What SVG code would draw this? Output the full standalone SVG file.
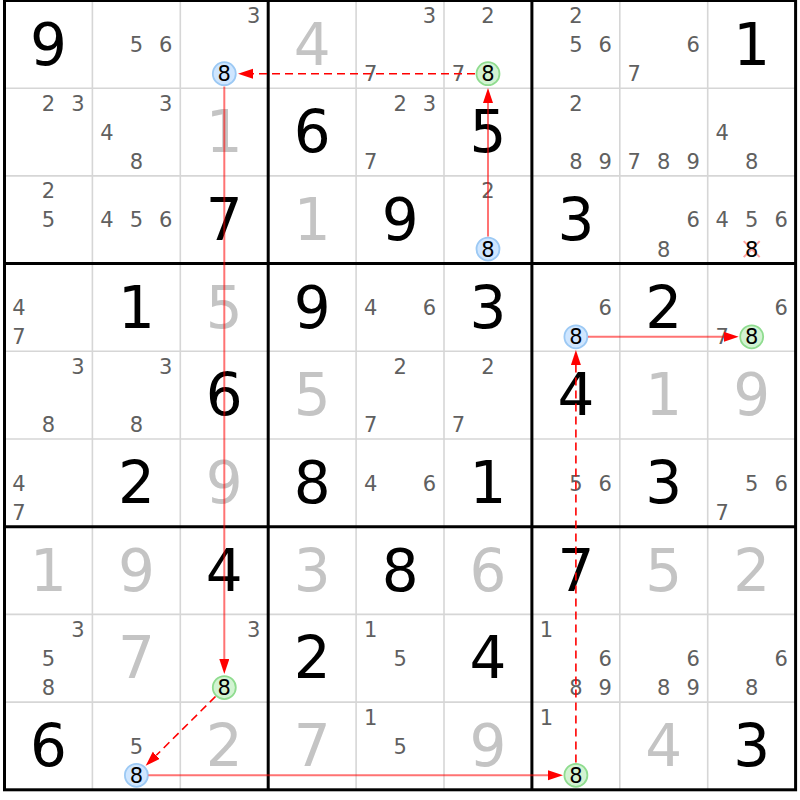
<svg xmlns="http://www.w3.org/2000/svg" width="800" height="800" viewBox="0 0 800 800">
<style>
text{font-family:"DejaVu Sans","Verdana",sans-serif;text-anchor:middle}
.c{font-size:21px;fill:#606060}
.g{font-size:58px;fill:#000}
.s{font-size:58px;fill:#c4c4c4}
.ck{font-size:21px;fill:#000}
.hb{fill:#cfe6ff;stroke:#9cc9f4;stroke-width:1.8}
.hg{fill:#d2f3d2;stroke:#8fdc8f;stroke-width:1.8}
.thin{stroke:#d6d6d6;stroke-width:1.6}
.thick{stroke:#000;stroke-width:3;fill:none}
.x{stroke:#ff8a8a;stroke-width:2;stroke-opacity:0.8}
.solid{stroke:#ff0000;stroke-opacity:0.55;stroke-width:2;fill:none}
.dash{stroke:#ff0000;stroke-width:1.6;stroke-dasharray:8 5;fill:none}
</style>
<defs>
<marker id="ah" markerUnits="userSpaceOnUse" markerWidth="16" markerHeight="11" refX="0" refY="5" orient="auto">
<path d="M0,0 L15,5 L0,10 Z" fill="#ff0000"/>
</marker>
</defs>
<rect x="0" y="0" width="800" height="800" fill="#fff"/>
<g id="grid">
<path class="thin" d="M92.4,0.5V789.8M180.3,0.5V789.8M356.1,0.5V789.8M444,0.5V789.8M619.8,0.5V789.8M707.7,0.5V789.8M4.5,88.2H795.6M4.5,175.9H795.6M4.5,351.3H795.6M4.5,439H795.6M4.5,614.4H795.6M4.5,702.1H795.6"/>
<path class="thick" d="M268.2,0.5V789.8M531.9,0.5V789.8M4.5,263.6H795.6M4.5,526.7H795.6"/>
<rect class="thick" x="4.5" y="0.5" width="791.1" height="789.3"/>
</g>
<g id="cells">
<g id="r1c1" transform="translate(4.5,0.5)"><text class="g" x="44" y="64">9</text></g>
<g id="r1c2" transform="translate(92.4,0.5)"><text class="c" x="44" y="51.6">5</text><text class="c" x="73.4" y="51.6">6</text></g>
<g id="r1c3" transform="translate(180.3,0.5)"><text class="c" x="73.4" y="22.6">3</text><circle class="hb" cx="44" cy="73.2" r="11.5"/><text class="ck" x="44" y="80.8">8</text></g>
<g id="r1c4" transform="translate(268.2,0.5)"><text class="s" x="44" y="64">4</text></g>
<g id="r1c5" transform="translate(356.1,0.5)"><text class="c" x="73.4" y="22.6">3</text><text class="c" x="14.5" y="80.8">7</text></g>
<g id="r1c6" transform="translate(444,0.5)"><text class="c" x="44" y="22.6">2</text><text class="c" x="14.5" y="80.8">7</text><circle class="hg" cx="44" cy="73.2" r="11.5"/><text class="ck" x="44" y="80.8">8</text></g>
<g id="r1c7" transform="translate(531.9,0.5)"><text class="c" x="44" y="22.6">2</text><text class="c" x="44" y="51.6">5</text><text class="c" x="73.4" y="51.6">6</text></g>
<g id="r1c8" transform="translate(619.8,0.5)"><text class="c" x="73.4" y="51.6">6</text><text class="c" x="14.5" y="80.8">7</text></g>
<g id="r1c9" transform="translate(707.7,0.5)"><text class="g" x="44" y="64">1</text></g>

<g id="r2c1" transform="translate(4.5,88.2)"><text class="c" x="44" y="22.6">2</text><text class="c" x="73.4" y="22.6">3</text></g>
<g id="r2c2" transform="translate(92.4,88.2)"><text class="c" x="73.4" y="22.6">3</text><text class="c" x="14.5" y="51.6">4</text><text class="c" x="44" y="80.8">8</text></g>
<g id="r2c3" transform="translate(180.3,88.2)"><text class="s" x="44" y="64">1</text></g>
<g id="r2c4" transform="translate(268.2,88.2)"><text class="g" x="44" y="64">6</text></g>
<g id="r2c5" transform="translate(356.1,88.2)"><text class="c" x="44" y="22.6">2</text><text class="c" x="73.4" y="22.6">3</text><text class="c" x="14.5" y="80.8">7</text></g>
<g id="r2c6" transform="translate(444,88.2)"><text class="g" x="44" y="64">5</text></g>
<g id="r2c7" transform="translate(531.9,88.2)"><text class="c" x="44" y="22.6">2</text><text class="c" x="44" y="80.8">8</text><text class="c" x="73.4" y="80.8">9</text></g>
<g id="r2c8" transform="translate(619.8,88.2)"><text class="c" x="14.5" y="80.8">7</text><text class="c" x="44" y="80.8">8</text><text class="c" x="73.4" y="80.8">9</text></g>
<g id="r2c9" transform="translate(707.7,88.2)"><text class="c" x="14.5" y="51.6">4</text><text class="c" x="44" y="80.8">8</text></g>

<g id="r3c1" transform="translate(4.5,175.9)"><text class="c" x="44" y="22.6">2</text><text class="c" x="44" y="51.6">5</text></g>
<g id="r3c2" transform="translate(92.4,175.9)"><text class="c" x="14.5" y="51.6">4</text><text class="c" x="44" y="51.6">5</text><text class="c" x="73.4" y="51.6">6</text></g>
<g id="r3c3" transform="translate(180.3,175.9)"><text class="g" x="44" y="64">7</text></g>
<g id="r3c4" transform="translate(268.2,175.9)"><text class="s" x="44" y="64">1</text></g>
<g id="r3c5" transform="translate(356.1,175.9)"><text class="g" x="44" y="64">9</text></g>
<g id="r3c6" transform="translate(444,175.9)"><text class="c" x="44" y="22.6">2</text><circle class="hb" cx="44" cy="73.2" r="11.5"/><text class="ck" x="44" y="80.8">8</text></g>
<g id="r3c7" transform="translate(531.9,175.9)"><text class="g" x="44" y="64">3</text></g>
<g id="r3c8" transform="translate(619.8,175.9)"><text class="c" x="73.4" y="51.6">6</text><text class="c" x="44" y="80.8">8</text></g>
<g id="r3c9" transform="translate(707.7,175.9)"><text class="c" x="14.5" y="51.6">4</text><text class="c" x="44" y="51.6">5</text><text class="c" x="73.4" y="51.6">6</text><path class="x" d="M36,65.2L52,81.2M36,81.2L52,65.2"/><text class="ck" x="44" y="80.8">8</text></g>

<g id="r4c1" transform="translate(4.5,263.6)"><text class="c" x="14.5" y="51.6">4</text><text class="c" x="14.5" y="80.8">7</text></g>
<g id="r4c2" transform="translate(92.4,263.6)"><text class="g" x="44" y="64">1</text></g>
<g id="r4c3" transform="translate(180.3,263.6)"><text class="s" x="44" y="64">5</text></g>
<g id="r4c4" transform="translate(268.2,263.6)"><text class="g" x="44" y="64">9</text></g>
<g id="r4c5" transform="translate(356.1,263.6)"><text class="c" x="14.5" y="51.6">4</text><text class="c" x="73.4" y="51.6">6</text></g>
<g id="r4c6" transform="translate(444,263.6)"><text class="g" x="44" y="64">3</text></g>
<g id="r4c7" transform="translate(531.9,263.6)"><text class="c" x="73.4" y="51.6">6</text><circle class="hb" cx="44" cy="73.2" r="11.5"/><text class="ck" x="44" y="80.8">8</text></g>
<g id="r4c8" transform="translate(619.8,263.6)"><text class="g" x="44" y="64">2</text></g>
<g id="r4c9" transform="translate(707.7,263.6)"><text class="c" x="73.4" y="51.6">6</text><text class="c" x="14.5" y="80.8">7</text><circle class="hg" cx="44" cy="73.2" r="11.5"/><text class="ck" x="44" y="80.8">8</text></g>

<g id="r5c1" transform="translate(4.5,351.3)"><text class="c" x="73.4" y="22.6">3</text><text class="c" x="44" y="80.8">8</text></g>
<g id="r5c2" transform="translate(92.4,351.3)"><text class="c" x="73.4" y="22.6">3</text><text class="c" x="44" y="80.8">8</text></g>
<g id="r5c3" transform="translate(180.3,351.3)"><text class="g" x="44" y="64">6</text></g>
<g id="r5c4" transform="translate(268.2,351.3)"><text class="s" x="44" y="64">5</text></g>
<g id="r5c5" transform="translate(356.1,351.3)"><text class="c" x="44" y="22.6">2</text><text class="c" x="14.5" y="80.8">7</text></g>
<g id="r5c6" transform="translate(444,351.3)"><text class="c" x="44" y="22.6">2</text><text class="c" x="14.5" y="80.8">7</text></g>
<g id="r5c7" transform="translate(531.9,351.3)"><text class="g" x="44" y="64">4</text></g>
<g id="r5c8" transform="translate(619.8,351.3)"><text class="s" x="44" y="64">1</text></g>
<g id="r5c9" transform="translate(707.7,351.3)"><text class="s" x="44" y="64">9</text></g>

<g id="r6c1" transform="translate(4.5,439)"><text class="c" x="14.5" y="51.6">4</text><text class="c" x="14.5" y="80.8">7</text></g>
<g id="r6c2" transform="translate(92.4,439)"><text class="g" x="44" y="64">2</text></g>
<g id="r6c3" transform="translate(180.3,439)"><text class="s" x="44" y="64">9</text></g>
<g id="r6c4" transform="translate(268.2,439)"><text class="g" x="44" y="64">8</text></g>
<g id="r6c5" transform="translate(356.1,439)"><text class="c" x="14.5" y="51.6">4</text><text class="c" x="73.4" y="51.6">6</text></g>
<g id="r6c6" transform="translate(444,439)"><text class="g" x="44" y="64">1</text></g>
<g id="r6c7" transform="translate(531.9,439)"><text class="c" x="44" y="51.6">5</text><text class="c" x="73.4" y="51.6">6</text></g>
<g id="r6c8" transform="translate(619.8,439)"><text class="g" x="44" y="64">3</text></g>
<g id="r6c9" transform="translate(707.7,439)"><text class="c" x="44" y="51.6">5</text><text class="c" x="73.4" y="51.6">6</text><text class="c" x="14.5" y="80.8">7</text></g>

<g id="r7c1" transform="translate(4.5,526.7)"><text class="s" x="44" y="64">1</text></g>
<g id="r7c2" transform="translate(92.4,526.7)"><text class="s" x="44" y="64">9</text></g>
<g id="r7c3" transform="translate(180.3,526.7)"><text class="g" x="44" y="64">4</text></g>
<g id="r7c4" transform="translate(268.2,526.7)"><text class="s" x="44" y="64">3</text></g>
<g id="r7c5" transform="translate(356.1,526.7)"><text class="g" x="44" y="64">8</text></g>
<g id="r7c6" transform="translate(444,526.7)"><text class="s" x="44" y="64">6</text></g>
<g id="r7c7" transform="translate(531.9,526.7)"><text class="g" x="44" y="64">7</text></g>
<g id="r7c8" transform="translate(619.8,526.7)"><text class="s" x="44" y="64">5</text></g>
<g id="r7c9" transform="translate(707.7,526.7)"><text class="s" x="44" y="64">2</text></g>

<g id="r8c1" transform="translate(4.5,614.4)"><text class="c" x="73.4" y="22.6">3</text><text class="c" x="44" y="51.6">5</text><text class="c" x="44" y="80.8">8</text></g>
<g id="r8c2" transform="translate(92.4,614.4)"><text class="s" x="44" y="64">7</text></g>
<g id="r8c3" transform="translate(180.3,614.4)"><text class="c" x="73.4" y="22.6">3</text><circle class="hg" cx="44" cy="73.2" r="11.5"/><text class="ck" x="44" y="80.8">8</text></g>
<g id="r8c4" transform="translate(268.2,614.4)"><text class="g" x="44" y="64">2</text></g>
<g id="r8c5" transform="translate(356.1,614.4)"><text class="c" x="14.5" y="22.6">1</text><text class="c" x="44" y="51.6">5</text></g>
<g id="r8c6" transform="translate(444,614.4)"><text class="g" x="44" y="64">4</text></g>
<g id="r8c7" transform="translate(531.9,614.4)"><text class="c" x="14.5" y="22.6">1</text><text class="c" x="73.4" y="51.6">6</text><text class="c" x="44" y="80.8">8</text><text class="c" x="73.4" y="80.8">9</text></g>
<g id="r8c8" transform="translate(619.8,614.4)"><text class="c" x="73.4" y="51.6">6</text><text class="c" x="44" y="80.8">8</text><text class="c" x="73.4" y="80.8">9</text></g>
<g id="r8c9" transform="translate(707.7,614.4)"><text class="c" x="73.4" y="51.6">6</text><text class="c" x="44" y="80.8">8</text></g>

<g id="r9c1" transform="translate(4.5,702.1)"><text class="g" x="44" y="64">6</text></g>
<g id="r9c2" transform="translate(92.4,702.1)"><text class="c" x="44" y="51.6">5</text><circle class="hb" cx="44" cy="73.2" r="11.5"/><text class="ck" x="44" y="80.8">8</text></g>
<g id="r9c3" transform="translate(180.3,702.1)"><text class="s" x="44" y="64">2</text></g>
<g id="r9c4" transform="translate(268.2,702.1)"><text class="s" x="44" y="64">7</text></g>
<g id="r9c5" transform="translate(356.1,702.1)"><text class="c" x="14.5" y="22.6">1</text><text class="c" x="44" y="51.6">5</text></g>
<g id="r9c6" transform="translate(444,702.1)"><text class="s" x="44" y="64">9</text></g>
<g id="r9c7" transform="translate(531.9,702.1)"><text class="c" x="14.5" y="22.6">1</text><circle class="hg" cx="44" cy="73.2" r="11.5"/><text class="ck" x="44" y="80.8">8</text></g>
<g id="r9c8" transform="translate(619.8,702.1)"><text class="s" x="44" y="64">4</text></g>
<g id="r9c9" transform="translate(707.7,702.1)"><text class="g" x="44" y="64">3</text></g>
</g>
<g id="connectors">
<line class="dash" x1="475" y1="73.7" x2="253" y2="73.7" marker-end="url(#ah)"/>
<line class="solid" x1="488" y1="236.5" x2="488" y2="103" marker-end="url(#ah)"/>
<line class="solid" x1="224.3" y1="86.5" x2="224.3" y2="659" marker-end="url(#ah)"/>
<line class="dash" x1="215.5" y1="696.5" x2="156.3" y2="755.3" marker-end="url(#ah)"/>
<line class="solid" x1="148.4" y1="775.3" x2="548" y2="775.3" marker-end="url(#ah)"/>
<line class="dash" x1="575.9" y1="762.5" x2="575.9" y2="365" marker-end="url(#ah)"/>
<line class="solid" x1="588" y1="336.8" x2="723.7" y2="336.8" marker-end="url(#ah)"/>
</g>
</svg>
